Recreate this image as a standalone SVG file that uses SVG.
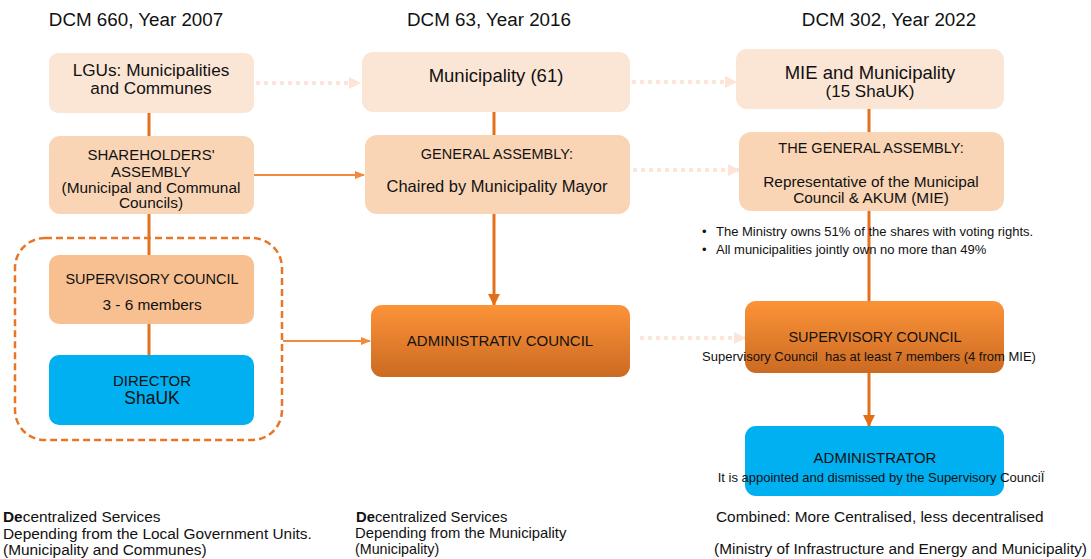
<svg xmlns="http://www.w3.org/2000/svg" width="1091" height="559" viewBox="0 0 1091 559">
<defs>
<linearGradient id="og" x1="0" y1="0" x2="0" y2="1">
<stop offset="0" stop-color="#FC9338"/>
<stop offset="1" stop-color="#CB6A22"/>
</linearGradient>
<marker id="ah" markerWidth="10" markerHeight="10" refX="9" refY="5" orient="auto" markerUnits="userSpaceOnUse">
<path d="M0,1 L10,5 L0,9 Z" fill="#F18A3C"/>
</marker>
<marker id="ahd" markerWidth="12" markerHeight="12" refX="11" refY="6" orient="auto" markerUnits="userSpaceOnUse">
<path d="M0,0 L12,6 L0,12 Z" fill="#E26F17"/>
</marker>
<marker id="ahl" markerWidth="12" markerHeight="12" refX="11" refY="6" orient="auto" markerUnits="userSpaceOnUse">
<path d="M0,0 L12,6 L0,12 Z" fill="#FCE4D6"/>
</marker>
</defs>
<style>
text{font-family:"Liberation Sans",Arial,sans-serif;fill:#111;white-space:pre}
.h{font-size:18.8px;text-anchor:middle}
.t{font-size:17.5px;text-anchor:middle}
.c{font-size:15px;text-anchor:middle}
.s{font-size:14.5px;text-anchor:middle}
.l{font-size:15.4px;text-anchor:middle}
.b{font-size:13px}
.f{font-size:15.4px}
.light{fill:#FBE6D6}
.mid{fill:#F9D5B6}
.sup{fill:#F8C091}
.blue{fill:#00B0F0}
.grad{fill:url(#og)}
.solid{stroke:#E3711A;stroke-width:3;fill:none}
.arr{stroke:#F18A3C;stroke-width:2;fill:none}
.dot{stroke:#FCE4D6;stroke-width:4;stroke-dasharray:4 4;fill:none}
</style>
<rect width="1091" height="559" fill="#fff"/>

<text class="h" x="136" y="26">DCM 660, Year 2007</text>
<text class="h" x="489" y="26">DCM 63, Year 2016</text>
<text class="h" x="889" y="26">DCM 302, Year 2022</text>

<g id="connectors">
<line class="solid" x1="149" y1="113" x2="149" y2="136"/>
<line class="solid" x1="149" y1="214" x2="149" y2="255"/>
<line class="solid" x1="149" y1="324" x2="149" y2="355"/>
<line class="arr" x1="254" y1="175" x2="364" y2="175" marker-end="url(#ah)"/>
<line class="arr" x1="283" y1="341" x2="370" y2="341" marker-end="url(#ah)"/>
<line class="dot" x1="256" y1="83" x2="360" y2="83" marker-end="url(#ahl)"/>
<line class="dot" x1="632" y1="82" x2="736" y2="82" marker-end="url(#ahl)"/>
<line class="dot" x1="633" y1="170" x2="739" y2="170" marker-end="url(#ahl)"/>
<line class="dot" x1="640" y1="338" x2="745" y2="338" marker-end="url(#ahl)"/>
<line class="solid" x1="494" y1="112" x2="494" y2="135"/>
<line class="solid" x1="494" y1="214" x2="494" y2="305" marker-end="url(#ahd)"/>
<line class="solid" x1="869" y1="109" x2="869" y2="132"/>
<line class="solid" x1="869" y1="211" x2="869" y2="301"/>
<line class="solid" x1="869" y1="373" x2="869" y2="426" marker-end="url(#ahd)"/>
</g>

<g id="group-2007">
<rect x="15" y="238" width="267" height="202" rx="30" fill="none" stroke="#E97627" stroke-width="2.5" stroke-dasharray="7 4"/>
</g>

<g id="lgus">
<rect class="light" x="49" y="53" width="205" height="60" rx="9"/>
<text class="t" x="151" y="76" style="font-size:17.2px">LGUs: Municipalities</text>
<text class="t" x="151" y="94" style="font-size:17.2px">and Communes</text>
</g>
<g id="shareholders">
<rect class="mid" x="49" y="136" width="205" height="78" rx="11"/>
<text class="c" x="151" y="160">SHAREHOLDERS'</text>
<text class="c" x="151" y="177">ASSEMBLY</text>
<text class="l" x="151" y="193">(Municipal and Communal</text>
<text class="l" x="151" y="208">Councils)</text>
</g>
<g id="supervisory-2007">
<rect class="sup" x="49" y="255" width="205" height="69" rx="10"/>
<text class="s" x="152" y="284">SUPERVISORY COUNCIL</text>
<text class="l" x="152" y="310">3 - 6 members</text>
</g>
<g id="director">
<rect class="blue" x="49" y="355" width="205" height="70" rx="10"/>
<text class="c" x="152" y="386">DIRECTOR</text>
<text class="t" x="152" y="404">ShaUK</text>
</g>

<g id="municipality61">
<rect class="light" x="362" y="52" width="268" height="60" rx="11"/>
<text class="t" x="496" y="82" style="font-size:18.5px">Municipality (61)</text>
</g>
<g id="general-assembly">
<rect class="mid" x="365" y="135" width="265" height="79" rx="12"/>
<text class="s" x="497" y="159">GENERAL ASSEMBLY:</text>
<text class="t" x="497" y="192" style="font-size:16.5px">Chaired by Municipality Mayor</text>
</g>
<g id="admin-council">
<rect class="grad" x="371" y="305" width="259" height="72" rx="11"/>
<text class="c" x="500" y="346">ADMINISTRATIV COUNCIL</text>
</g>

<g id="mie">
<rect class="light" x="736" y="49" width="268" height="60" rx="11"/>
<text class="t" x="870" y="79" style="font-size:18.5px">MIE and Municipality</text>
<text class="t" x="870" y="97" style="font-size:17px">(15 ShaUK)</text>
</g>
<g id="the-general-assembly">
<rect class="mid" x="739" y="132" width="265" height="79" rx="12"/>
<text class="s" x="871" y="153">THE GENERAL ASSEMBLY:</text>
<text class="l" x="871" y="187">Representative of the Municipal</text>
<text class="l" x="871" y="203">Council &amp; AKUM (MIE)</text>
</g>
<g id="bullets">
<text class="b" x="702" y="236">•</text>
<text class="b" x="716" y="236">The Ministry owns 51% of the shares with voting rights.</text>
<text class="b" x="702" y="254">•</text>
<text class="b" x="716" y="254">All municipalities jointly own no more than 49%</text>
</g>
<g id="supervisory-2022">
<rect class="grad" x="745" y="301" width="259" height="72" rx="11"/>
<text class="s" x="875" y="342">SUPERVISORY COUNCIL</text>
<text class="b" x="869" y="361" text-anchor="middle">Supervisory Council  has at least 7 members (4 from MIE)</text>
</g>
<g id="administrator">
<rect class="blue" x="745" y="426" width="259" height="70" rx="11"/>
<text class="c" x="875" y="463">ADMINISTRATOR</text>
<text class="b" x="881" y="482" text-anchor="middle">It is appointed and dismissed by the Supervisory CounciÏ</text>
</g>

<g id="footer-2007">
<text class="f" x="3" y="522"><tspan font-weight="bold">De</tspan>centralized Services</text>
<text class="f" x="3" y="539">Depending from the Local Government Units.</text>
<text class="f" x="3" y="555">(Municipality and Communes)</text>
</g>
<g id="footer-2016">
<text class="f" x="356" y="522" style="font-size:14.8px"><tspan font-weight="bold">De</tspan>centralized Services</text>
<text class="f" x="355" y="538" style="font-size:14.8px">Depending from the Municipality</text>
<text class="f" x="355" y="554" style="font-size:14.3px">(Municipality)</text>
</g>
<g id="footer-2022">
<text class="f" x="716" y="522">Combined: More Centralised, less decentralised</text>
<text class="f" x="1087" y="554" text-anchor="end">(Ministry of Infrastructure and Energy and Municipality)</text>
</g>
</svg>
